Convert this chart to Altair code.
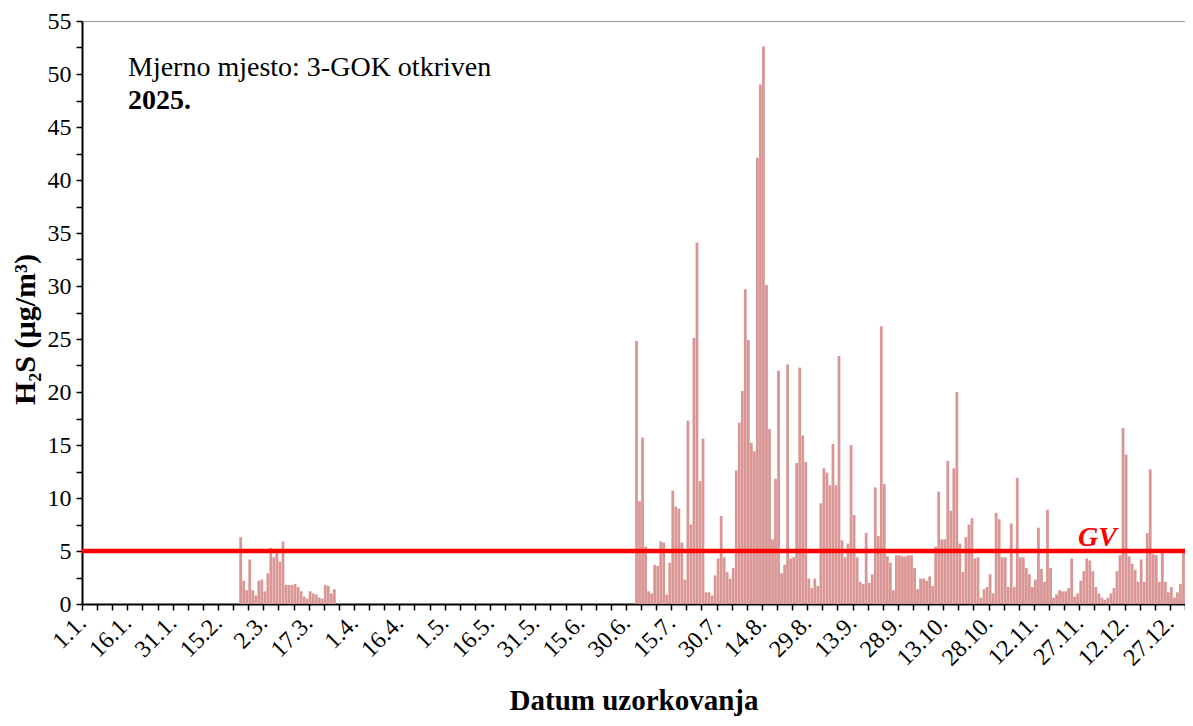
import json
from datetime import date
import altair as alt
import pandas as pd

# ---- data ----
tick_labels = ["1.1.", "16.1.", "31.1.", "15.2.", "2.3.", "17.3.", "1.4.", "16.4.",
               "1.5.", "16.5.", "31.5.", "15.6.", "30.6.", "15.7.", "30.7.", "14.8.",
               "29.8.", "13.9.", "28.9.", "13.10.", "28.10.", "12.11.", "27.11.",
               "12.12.", "27.12."]

winter_start = "2025-02-22"
winter_values = [6.3, 2.2, 1.3, 4.2, 1.3, 0.8, 2.2, 2.3, 1.2, 2.9,
                 5.3, 4.4, 5.0, 4.0, 5.9, 1.8, 1.8, 1.8, 1.9, 1.6,
                 1.2, 0.7, 0.5, 1.2, 1.0, 0.9, 0.6, 0.5, 1.8, 1.7,
                 1.0, 1.4]

summer_start = "2025-07-03"
summer_values = [24.8, 9.7, 15.7, 5.4, 1.2, 1.0, 3.7, 3.6, 5.9, 5.8,
                 0.9, 3.9, 10.7, 9.2, 9.0, 5.8, 2.3, 17.3, 7.5, 25.1,
                 34.1, 11.6, 15.6, 1.1, 1.1, 0.8, 2.7, 4.3, 8.3, 4.4,
                 3.0, 2.4, 3.4, 12.6, 17.1, 20.1, 29.7, 24.9, 15.2, 14.4,
                 42.1, 49.0, 52.6, 30.1, 16.5, 6.1, 11.8, 22.0, 2.9, 3.7,
                 22.6, 4.3, 4.4, 13.3, 22.3, 15.9, 13.4, 2.4, 1.5, 2.4,
                 1.7, 9.5, 12.8, 12.4, 11.2, 15.1, 11.2, 23.4, 6.0, 4.4,
                 5.7, 15.0, 8.4, 4.4, 2.1, 1.9, 6.7, 2.0, 2.8, 11.0,
                 6.4, 26.2, 11.3, 4.5, 3.9, 1.3, 4.6, 4.6, 4.5, 4.5,
                 4.6, 4.6, 3.4, 1.4, 2.4, 2.4, 2.2, 2.6, 1.7, 5.4,
                 10.6, 6.1, 6.1, 13.5, 8.8, 12.8, 20.0, 5.7, 3.0, 6.3,
                 7.5, 8.1, 4.3, 4.4, 0.6, 1.4, 1.6, 2.8, 1.0, 8.6,
                 8.0, 4.4, 4.4, 1.6, 7.6, 1.6, 11.9, 4.4, 4.4, 3.4,
                 2.8, 1.6, 2.3, 7.2, 3.3,
                 2.1, 8.9, 3.4, 0.6, 0.9, 1.3, 1.2, 1.2, 1.5, 4.3,
                 0.7, 1.0, 2.2, 3.1, 4.3, 4.1, 3.1, 1.6, 1.0, 0.6,
                 0.4, 0.6, 1.0, 1.5, 3.1, 4.6, 16.6, 14.1, 4.5, 3.8,
                 3.2, 2.1, 4.2, 2.1, 6.7, 12.7, 4.7, 4.6, 2.1, 4.8,
                 2.1, 1.1, 1.6, 0.6, 1.1, 1.9, 5.2]

limit_value = 5          # GV
gv_label_day = 336
note_line1 = "Mjerno mjesto: 3-GOK otkriven"
note_line2 = "2025."

# ---- build table ----
jan1 = date(2025, 1, 1)
rows = []
for start, vals in ((winter_start, winter_values), (summer_start, summer_values)):
    d0 = (date.fromisoformat(start) - jan1).days
    for i, v in enumerate(vals):
        rows.append({"day": d0 + i, "value": v})
df = pd.DataFrame(rows)

FONT = "Liberation Serif"
x_scale = alt.Scale(domain=[0, 365], nice=False, zero=False)
y_scale = alt.Scale(domain=[0, 55], nice=False)

labels_js = json.dumps(tick_labels)
x_axis = alt.Axis(
    values=list(range(0, 366, 5)),
    labelExpr=f"datum.value % 15 == 0 ? {labels_js}[datum.value / 15] : ''",
    labelAngle=-45, labelAlign="right", labelBaseline="middle",
    labelFontSize=24, labelPadding=9, labelOverlap=False, labelFlush=False,
    tickSize=6, tickWidth=1.5, domainWidth=2,
    title="Datum uzorkovanja", titleFontSize=29, titleFontWeight="bold",
    titleY=96, titleBaseline="middle",
)
y_axis = alt.Axis(
    values=[i * 2.5 for i in range(23)],
    labelExpr="datum.value % 5 == 0 ? datum.label : ''",
    labelFontSize=24, labelPadding=5, labelOverlap=False, labelFlush=False,
    tickSize=6, tickWidth=1.5, domainWidth=2,
    title="H₂S (µg/m³)", titleFontSize=30, titleFontWeight="bold",
    titleX=-57, titleY=308, titleAngle=270, titleBaseline="middle", titleAlign="center",
)

bars = alt.Chart(df).transform_calculate(
    x0="datum.day + 0.04", x1="datum.day + 0.96"
).mark_bar(color="#D99694").encode(
    x=alt.X("x0:Q", scale=x_scale, axis=x_axis),
    x2="x1:Q",
    y=alt.Y("value:Q", scale=y_scale, axis=y_axis),
    y2=alt.datum(0),
)

gv_df = pd.DataFrame({"gv": [limit_value]})
rule = alt.Chart(gv_df).mark_rule(color="#FF0000", strokeWidth=4.5).encode(
    y=alt.YDatum(limit_value, type="quantitative", scale=y_scale, axis=y_axis)
)
gv_text = alt.Chart(gv_df).mark_text(
    text="GV", font=FONT, fontSize=28, fontWeight="bold", fontStyle="italic",
    color="#FF0000", align="center", baseline="alphabetic", dy=-5
).encode(
    x=alt.XDatum(gv_label_day, type="quantitative", scale=x_scale, axis=x_axis),
    y=alt.YDatum(limit_value, type="quantitative", scale=y_scale, axis=y_axis),
)

note1 = alt.Chart(pd.DataFrame({"t": [note_line1]})).mark_text(
    font=FONT, fontSize=28, align="left", baseline="alphabetic", color="black"
).encode(x=alt.value(46), y=alt.value(55), text="t:N")
note2 = alt.Chart(pd.DataFrame({"t": [note_line2]})).mark_text(
    font=FONT, fontSize=28, fontWeight="bold", align="left", baseline="alphabetic", color="black"
).encode(x=alt.value(46), y=alt.value(88), text="t:N")

chart = alt.layer(bars, rule, gv_text, note1, note2).properties(
    width=1103, height=583,
    padding={"left": 74, "top": 13, "right": 0, "bottom": 112},
    autosize=alt.AutoSizeParams(type="none"),
    background="white",
).configure_view(stroke="#9a9a9a", strokeWidth=1).configure_axis(
    grid=False, domainColor="black", tickColor="black",
    labelColor="black", titleColor="black", labelFont=FONT, titleFont=FONT,
)

chart.save("out.html", embed_options={"renderer": "svg", "actions": False})
